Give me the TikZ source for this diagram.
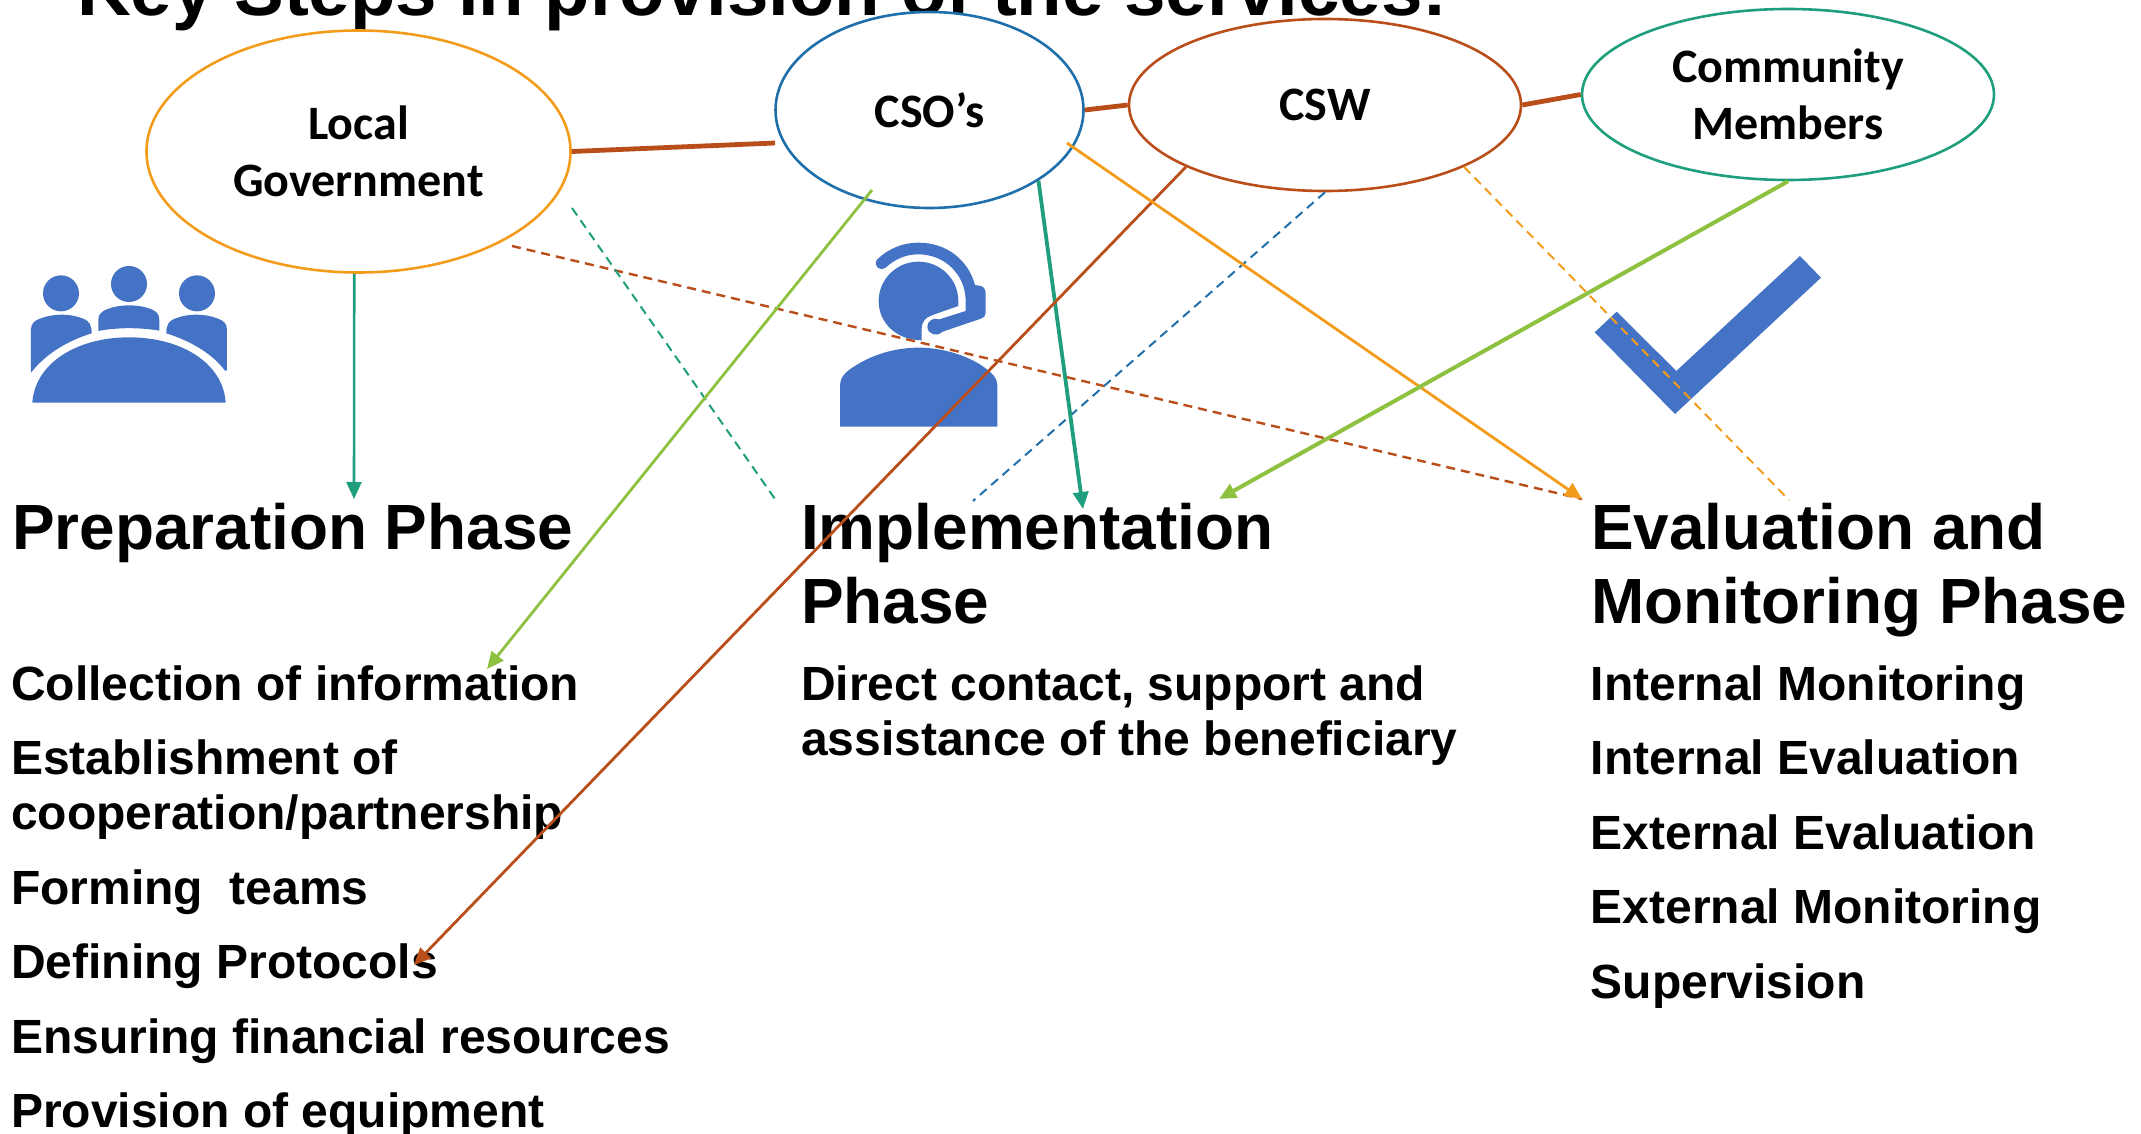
\documentclass[tikz,border=0pt]{standalone}
\usepackage{fontspec}
\setmainfont{Liberation Sans}
\newfontfamily\carlito{Carlito}
\usetikzlibrary{arrows.meta,shapes.geometric}
\definecolor{orangeC}{HTML}{F39C1C}
\definecolor{blueC}{HTML}{1F6FAB}
\definecolor{brownC}{HTML}{B94E1B}
\definecolor{tealC}{HTML}{1E9E7C}
\definecolor{limeC}{HTML}{8DC13F}
\definecolor{iconC}{HTML}{4472C4}
\tikzset{
  bub/.style={ellipse,draw=#1,fill=white,line width=2.6pt,inner sep=0pt,align=center,text=black,
    font=\carlito\bfseries\fontsize{48}{57}\selectfont},
  title/.style={anchor=base west,inner sep=0pt,font=\bfseries\fontsize{74.5}{80}\selectfont},
  head/.style={anchor=base west,inner sep=0pt,font=\bfseries\fontsize{63.9}{74}\selectfont},
  item/.style={anchor=base west,inner sep=0pt,font=\bfseries\fontsize{48}{55}\selectfont},
  link/.style={draw=brownC,line width=4.8pt},
  tip/.style={-{Triangle[length=17pt,width=15pt]}},
  dsh/.style={dash pattern=on 9pt off 6pt},
  icon/.style={fill=iconC,draw=none}
}
\begin{document}
\begin{tikzpicture}[x=1pt,y=-1pt]
\useasboundingbox (0,0) rectangle (2141,1134);
\node[title] (ttl) at (77,15.5) {Key Steps in provision of the services:};
% phases
\node[head] (h1) at (12,549) {Preparation Phase};
\node[head] (h2a) at (801,549) {Implementation};
\node[head] (h2b) at (801,623) {Phase};
\node[head] (h3a) at (1591,549) {Evaluation and};
\node[head] (h3b) at (1591,623) {Monitoring Phase};
\node[item] (a1) at (11,700) {Collection of information};
\node[item] (a2) at (11,774.5) {Establishment of};
\node[item] (a3) at (11,829.5) {cooperation/partnership};
\node[item] (a4) at (11,904.5) {Forming\ \ teams};
\node[item] (a5) at (11,978.5) {Defining Protocols};
\node[item] (a6) at (11,1053.5) {Ensuring financial resources};
\node[item] (a7) at (11,1127.5) {Provision of equipment};
\node[item] (b1) at (801,700) {Direct contact, support and};
\node[item] (b2) at (801,755) {assistance of the beneficiary};
\node[item] (c1) at (1590.5,700) {Internal Monitoring};
\node[item] (c2) at (1590.5,774.5) {Internal Evaluation};
\node[item] (c3) at (1590.5,849) {External Evaluation};
\node[item] (c4) at (1590.5,923.5) {External Monitoring};
\node[item] (c5) at (1590.5,998) {Supervision};
% icons
\begin{scope}[shift={(0,240)},x=0.3333pt,y=-0.3333pt]
\fill[icon] (183,160) circle (54pt/3);
\fill[icon] (387,132) circle (54pt/3);
\fill[icon] (591,160) circle (54pt/3);
\fill[icon] (93,398) -- (93,268) .. controls (93,250) and (105,241) .. (120,236) .. controls (160,220) and (210,220) .. (250,236) .. controls (268,243) and (275,255) .. (275,280) .. controls (195,305) and (135,345) .. (93,398) -- cycle;
\fill[icon] (295,273) -- (295,240) .. controls (295,222) and (305,215) .. (320,208) .. controls (360,192) and (415,192) .. (455,208) .. controls (470,215) and (478,222) .. (478,240) -- (478,272) .. controls (420,262) and (350,262) .. (295,273) -- cycle;
\fill[icon] (681,392) -- (681,268) .. controls (681,250) and (669,241) .. (654,236) .. controls (614,220) and (564,220) .. (524,236) .. controls (506,243) and (499,255) .. (499,280) .. controls (579,305) and (640,345) .. (675,392) -- cycle;
\fill[icon] (97,488) .. controls (105,370) and (230,292) .. (387,292) .. controls (545,292) and (670,370) .. (677,488) -- cycle;
\end{scope}
\begin{scope}[shift={(820,230)},x=0.3333pt,y=-0.3333pt]
\fill[icon] (60,590) -- (60,465) .. controls (60,445) and (75,425) .. (105,408) .. controls (160,372) and (230,353) .. (295,353) .. controls (365,353) and (440,375) .. (490,410) .. controls (518,430) and (532,445) .. (532,465) -- (532,590) -- cycle;
\fill[icon] (305,331) .. controls (230,330) and (176,280) .. (176,213) .. controls (176,148) and (230,95) .. (295,95) .. controls (362,95) and (415,148) .. (415,213) -- (415,228) -- (335,256) .. controls (318,262) and (305,275) .. (305,295) -- cycle;
\fill[icon] (170,90) .. controls (205,55) and (250,38) .. (295,38) .. controls (380,38) and (445,90) .. (465,165) -- (478,167) .. controls (490,168) and (497,178) .. (497,190) -- (497,248) .. controls (497,258) and (492,263) .. (483,266) -- (368,305) .. controls (350,322) and (322,312) .. (322,290) .. controls (322,272) and (340,262) .. (358,268) -- (437,243) -- (437,213) .. controls (437,135) and (375,73) .. (295,73) .. controls (258,73) and (225,87) .. (197,113) .. controls (183,125) and (160,112) .. (170,90) -- cycle;
\end{scope}
\begin{scope}[shift={(1580,240)},x=0.3333pt,y=-0.3333pt]
\fill[icon] (660,48) -- (723,113) -- (285,522) -- (44,277) -- (110,215) -- (289,393) -- cycle;
\end{scope}
% actors
\node[bub=orangeC,minimum width=424pt,minimum height=242pt] (lg) at (358.5,151.5) {Local\\Government};
\node[bub=blueC,minimum width=308pt,minimum height=196pt] (cso) at (929.5,110) {CSO’s};
\node[bub=brownC,minimum width=392pt,minimum height=172pt] (csw) at (1325,105) {CSW};
\node[bub=tealC,minimum width=412pt,minimum height=171pt] (cm) at (1788,94.5) {Community\\Members};
% free ends
\coordinate (lgA) at (512,246);
\coordinate (lgB) at (572,208);
\coordinate (csoA) at (872,190);
\coordinate (csoB) at (1067,143);
\coordinate (csoW) at (775,143);
\coordinate (t1) at (354,499);
\coordinate (t2) at (1083,509);
\coordinate (t3) at (487,669);
\coordinate (t4) at (414,965);
\coordinate (t5) at (1582,499);
\coordinate (t6) at (1219,499);
\coordinate (d1) at (775,499);
\coordinate (d2) at (973,501);
\coordinate (d3) at (1789,500);
% links
\draw[link] (lg.east) -- (csoW);
\draw[link] (cso.east) -- (csw.west);
\draw[link] (csw.east) -- (cm.west);
% dashed
\draw[brownC,line width=2.4pt,dsh] (lgA) -- (t5);
\draw[tealC,line width=2pt,dsh] (lgB) -- (d1);
\draw[blueC,line width=2pt,dsh] (csw.south) -- (d2);
\draw[orangeC,line width=2pt,dsh] (csw.-24.5) -- (d3);
% arrows
\draw[tealC,line width=2.6pt,tip] (lg.268) -- (t1);
\draw[tealC,line width=3.8pt,tip] (cso.-33) -- (t2);
\draw[limeC,line width=2.8pt,tip] (csoA) -- (t3);
\draw[brownC,line width=2.8pt,tip] (csw.204.5) -- (t4);
\draw[orangeC,line width=2.8pt,tip] (csoB) -- (t5);
\draw[limeC,line width=4pt,tip] (cm.south) -- (t6);
\end{tikzpicture}
\end{document}
